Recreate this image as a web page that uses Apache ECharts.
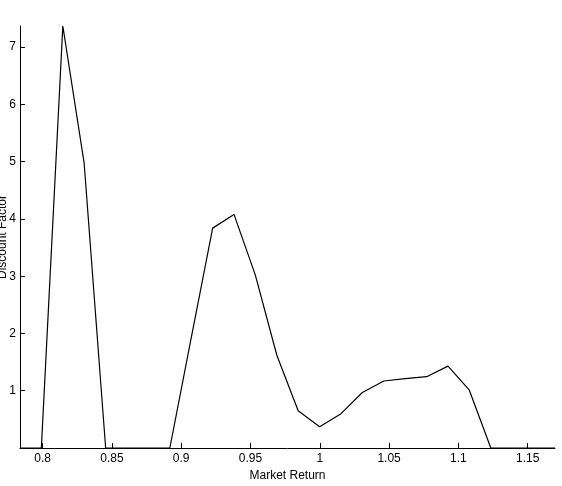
<!DOCTYPE html>
<html>
<head>
<meta charset="utf-8">
<script src="https://cdn.jsdelivr.net/npm/echarts@6/dist/echarts.min.js"></script>
<style>
  html, body { margin: 0; padding: 0; background: #fff; }
  #chart { width: 562px; height: 486px; }
</style>
</head>
<body>
<div id="chart"></div>
<script>
  // market return grid and discount factor
  const marketReturn = [0.7837, 0.7991, 0.8146, 0.8300, 0.8455, 0.8609, 0.8763, 0.8918, 0.9072,
    0.9227, 0.9381, 0.9535, 0.9690, 0.9844, 0.9999, 1.0153, 1.0307, 1.0462, 1.0616,
    1.0771, 1.0925, 1.1079, 1.1234, 1.1388, 1.1543, 1.1697]
  const discountFactor = [0, 0, 7.37, 4.97, 0, 0, 0, 0, 1.92,
    3.84, 4.08, 3.02, 1.62, 0.65, 0.37, 0.60, 0.97, 1.17, 1.21,
    1.245, 1.43, 1.01, 0, 0, 0, 0]
  const xTicks = [0.8, 0.85, 0.9, 0.95, 1, 1.05, 1.1, 1.15]
  const yTicks = [1, 2, 3, 4, 5, 6, 7]

  const font = 'Liberation Sans, Arial, sans-serif'
  const chart = echarts.init(document.getElementById('chart'))
  chart.setOption({
    animation: false,
    grid: { left: 20, right: 7, top: 26, bottom: 38, containLabel: false, outerBoundsMode: 'none' },
    xAxis: {
      type: 'value',
      min: marketReturn[0],
      max: marketReturn[marketReturn.length - 1],
      name: 'Market Return',
      nameLocation: 'middle',
      nameGap: 19,
      nameTextStyle: { color: '#000', fontSize: 12, fontFamily: font },
      axisLine: { show: true, lineStyle: { color: '#000', width: 1 } },
      axisTick: { show: true, inside: true, length: 5, customValues: xTicks, lineStyle: { color: '#000' } },
      axisLabel: { customValues: xTicks, color: '#000', fontSize: 12, fontFamily: font, margin: 5 },
      splitLine: { show: false }
    },
    yAxis: {
      type: 'value',
      min: 0,
      max: 7.37,
      name: 'Discount Factor',
      nameLocation: 'middle',
      nameGap: 11,
      nameMoveOverlap: false,
      nameTextStyle: { color: '#000', fontSize: 12, fontFamily: font },
      axisLine: { show: true, lineStyle: { color: '#000', width: 1 } },
      axisTick: { show: true, inside: true, length: 5, customValues: yTicks, lineStyle: { color: '#000' } },
      axisLabel: { customValues: yTicks, color: '#000', fontSize: 12, fontFamily: font, margin: 4 },
      splitLine: { show: false }
    },
    series: [{
      type: 'line',
      data: marketReturn.map((x, i) => [x, discountFactor[i]]),
      showSymbol: false,
      lineStyle: { color: '#000', width: 1.2 }
    }]
  })
</script>
</body>
</html>
